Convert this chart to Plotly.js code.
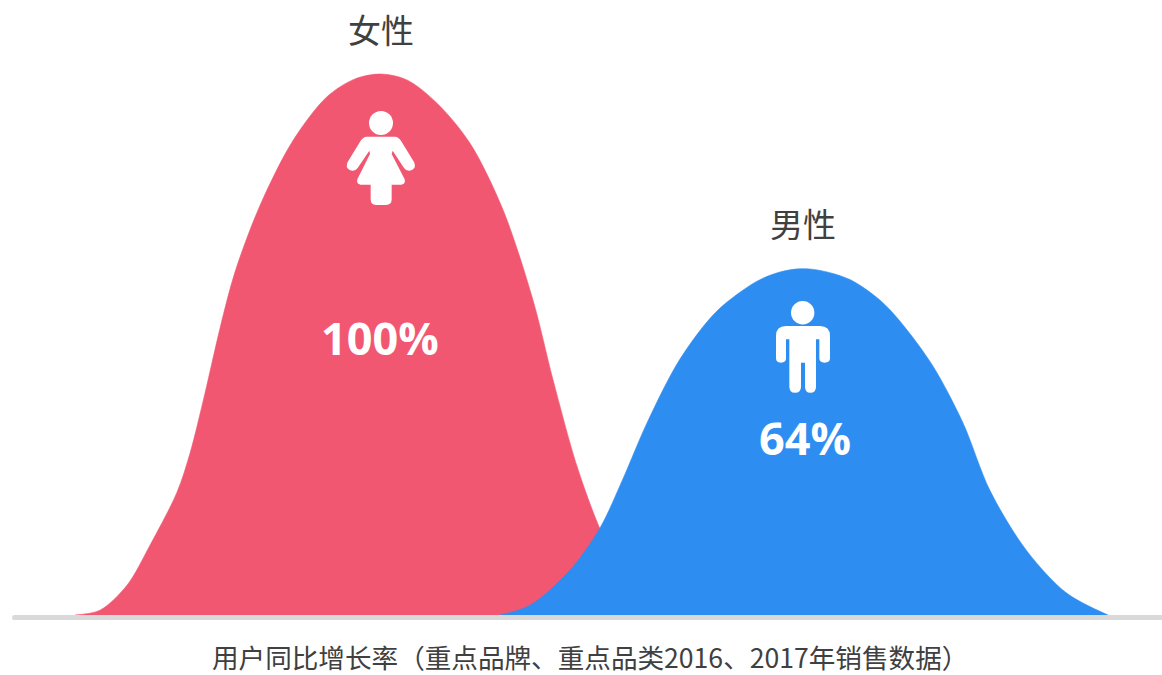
<!DOCTYPE html>
<html>
<head>
<meta charset="utf-8">
<script src="https://cdn.plot.ly/plotly-3.0.1.min.js"></script>
<style>html,body{margin:0;padding:0;background:#fff;overflow:hidden}</style>
</head>
<body>
<div id="chart" style="width:1162px;height:675px"></div>
<script>
const categories = ['女性', '男性'];
const shareLabels = ['100%', '64%'];
const caption = '用户同比增长率（重点品牌、重点品类2016、2017年销售数据）';

const femaleX = [75,100,127,150,177,190,205,220,235,260,293,327,355,381,407,437,470,503,533,553,577,600,630,665];
const femaleY = [0,0.9,5.5,12.9,22.7,29.9,41,53,63.4,75.7,87.7,95.8,99.1,100,98.9,94.6,87.2,74.9,58.2,43.5,27.5,15.9,4.6,0];
const maleX = [500,530,570,600,623,647,680,717,757,780,800,820,850,880,900,933,963,990,1027,1067,1108];
const maleY = [0,1.8,8.3,16.1,25.2,35.5,47.3,56.2,61.7,63.4,64,63.7,62,58.2,54.3,46,35.5,23,11.8,4,0];

const W = 1162, H = 675;
const RED = '#F15770', BLUE = '#2E8DF0', TEXT = '#404040';

function area(name, x, y, color) {
  return {type:'scatter', mode:'lines', name, x, y, fill:'tozeroy', fillcolor:color,
          line:{color:color, width:0.6, shape:'spline', smoothing:0.9}, hoverinfo:'name'};
}

// Pictograms: outlines in local units, mapped onto paper coordinates
function iconPath(d, ox, oy) {
  const toks = d.trim().split(/\s+/);
  let out = [], i = 0;
  const px = v => ((ox + v / 3) / W).toFixed(5);
  const py = v => (1 - (oy + v / 3) / H).toFixed(5);
  while (i < toks.length) {
    const c = toks[i++];
    if (c === 'Z') { out.push('Z'); continue; }
    if (c === 'Q') { out.push('Q', px(toks[i]), py(toks[i+1]), px(toks[i+2]), py(toks[i+3])); i += 4; }
    else { out.push(c, px(toks[i]), py(toks[i+1])); i += 2; }
  }
  return out.join(' ');
}
function pathShape(d, ox, oy) {
  return {type:'path', xref:'paper', yref:'paper', path:iconPath(d, ox, oy), fillcolor:'#fff', line:{width:0}, layer:'above'};
}
function headShape(cx, cy, r) {
  return {type:'circle', xref:'paper', yref:'paper', x0:(cx-r)/W, x1:(cx+r)/W, y0:1-(cy+r)/H, y1:1-(cy-r)/H,
          fillcolor:'#fff', line:{width:0}, layer:'above'};
}
const femaleIcon = 'M 140 140 L 225 140 Q 236 141 243 152 L 282 216 Q 290 232 276 240 Q 262 247 252 234 L 218 182 L 215 192 L 254 268 Q 258 283 244 284 L 215 284 L 215 328 Q 215 345 198 345 L 168 345 Q 152 345 152 328 L 152 284 L 122 284 Q 108 283 112 268 L 150 192 L 148 182 L 113 234 Q 103 247 89 240 Q 75 232 83 216 L 122 152 Q 129 141 140 140 Z';
const maleIcon = 'M 78 138 Q 78 108 108 108 L 210 108 Q 240 108 240 138 L 240 205 Q 240 218 224 218 Q 208 218 208 205 L 208 148 L 198 148 L 198 290 Q 198 308 181 308 Q 165 308 165 290 L 165 218 L 153 218 L 153 290 Q 153 308 135 308 Q 118 308 118 290 L 118 148 L 108 148 L 108 205 Q 108 218 93 218 Q 78 218 78 205 Z';

function note(text, cx, cy, size, color, bold, family) {
  return {xref:'paper', yref:'paper', x:cx/W, y:1-cy/H, xanchor:'center', yanchor:'middle', showarrow:false,
          text: bold ? '<b>'+text+'</b>' : text,
          font:{size, color, family}};
}
const CJK = '"Noto Sans CJK SC", sans-serif';
const LATIN = '"Open Sans", sans-serif';

const layout = {
  width:W, height:H, margin:{l:0,r:0,t:0,b:0}, showlegend:false,
  paper_bgcolor:'#fff', plot_bgcolor:'#fff',
  xaxis:{range:[0,W], visible:false, fixedrange:true},
  yaxis:{range:[-11.09,113.68], visible:false, fixedrange:true},
  shapes:[
    {type:'path', xref:'paper', yref:'paper', path:iconPath('M 42 0 L 3486 0 L 3486 15 L 42 15 Q 36 15 36 8 Q 36 0 42 0 Z', 0, 615), fillcolor:'#D9D9D9', line:{width:0}, layer:'above'},
    headShape(381, 123, 12),
    pathShape(femaleIcon, 320, 90),
    headShape(802.7, 312.7, 11.7),
    pathShape(maleIcon, 750, 290)
  ],
  annotations:[
    note(categories[0], 381, 29, 33, TEXT, false, CJK),
    note(categories[1], 803, 223, 33, TEXT, false, CJK),
    note(shareLabels[0], 379.5, 337, 45, '#fff', true, LATIN),
    note(shareLabels[1], 804.5, 437, 45, '#fff', true, LATIN),
    note(caption, 590, 656, 26.6, TEXT, false, CJK)
  ]
};
Plotly.newPlot('chart', [area(categories[0], femaleX, femaleY, RED), area(categories[1], maleX, maleY, BLUE)], layout, {displayModeBar:false, staticPlot:true});
</script>
</body>
</html>
